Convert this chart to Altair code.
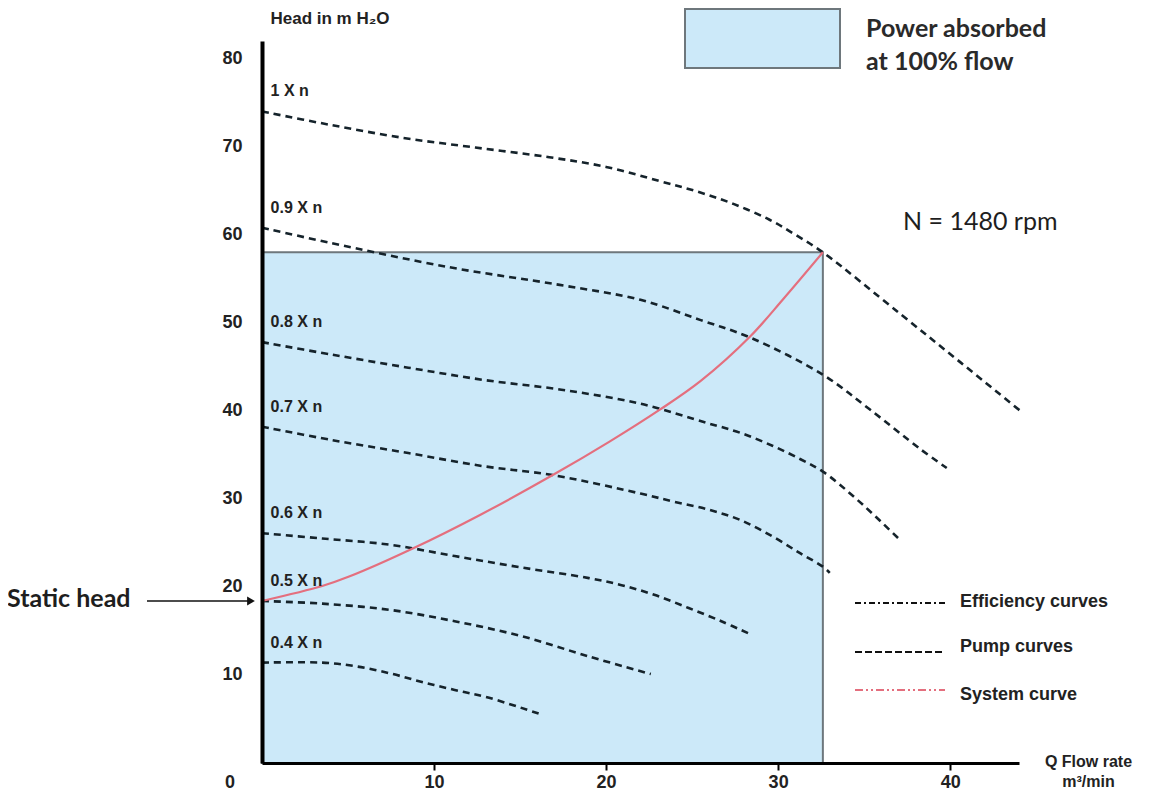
import altair as alt
import pandas as pd

# ---- data: Q flow rate (m3/min), H head (m H2O) ----
speeds = ["1 X n", "0.9 X n", "0.8 X n", "0.7 X n", "0.6 X n", "0.5 X n", "0.4 X n"]

q_10 = [0, 3.9, 8.2, 12.4, 16.7, 20.0, 23.1, 25.3, 27.4, 29.5, 31.0, 32.6, 37.1, 40.6, 44.2]
h_10 = [74.0, 72.5, 71.0, 69.9, 68.8, 67.7, 66.1, 64.9, 63.5, 61.7, 60.0, 58.0, 51.0, 45.5, 39.8]

q_09 = [0, 3.9, 10.9, 17.3, 22.0, 25.5, 28.4, 32.6, 35.3, 38.3, 39.8]
h_09 = [60.8, 59.1, 56.3, 54.3, 52.6, 50.3, 48.3, 44.1, 40.2, 35.6, 33.5]

q_08 = [0, 4.0, 8.5, 12.9, 17.4, 22.0, 25.9, 27.8, 29.7, 31.3, 32.6, 34.6, 37.1]
h_08 = [47.8, 46.4, 44.9, 43.5, 42.4, 40.8, 38.6, 37.5, 36.0, 34.5, 33.1, 29.9, 25.3]

q_07 = [0, 4.0, 8.5, 12.9, 16.9, 22.0, 23.9, 25.9, 27.8, 29.7, 31.3, 32.6, 33.0]
h_07 = [38.2, 36.7, 35.2, 33.7, 32.7, 30.6, 29.7, 28.8, 27.6, 25.7, 23.8, 22.3, 21.6]

q_06 = [0, 3.5, 7.4, 11.2, 15.1, 19.0, 20.9, 22.8, 24.8, 26.7, 28.3]
h_06 = [26.1, 25.5, 24.8, 23.5, 22.2, 21.0, 20.2, 19.1, 17.6, 16.1, 14.7]

q_05 = [0, 3.5, 7.4, 11.2, 15.1, 19.0, 22.6]
h_05 = [18.4, 18.1, 17.4, 16.1, 14.4, 12.1, 10.1]

q_04 = [0, 3.5, 5.4, 7.4, 9.3, 11.2, 13.2, 16.1]
h_04 = [11.4, 11.4, 11.0, 10.2, 9.2, 8.3, 7.4, 5.6]

q_sys = [0, 3.5, 5.1, 8.7, 12.7, 16.9, 20.2, 23.1, 25.5, 28.4, 30.3, 32.6]
h_sys = [18.4, 20.1, 21.2, 24.3, 28.2, 32.7, 36.5, 40.1, 43.4, 48.5, 52.7, 58.0]

q_operating = 32.6
h_operating = 58.0
static_head = 18.4

x_ticks = [10, 20, 30, 40]
y_ticks = [10, 20, 30, 40, 50, 60, 70, 80]
legend_labels = ["Efficiency curves", "Pump curves", "System curve"]

# ---- build tables ----
pump_q = [q_10, q_09, q_08, q_07, q_06, q_05, q_04]
pump_h = [h_10, h_09, h_08, h_07, h_06, h_05, h_04]
rows = []
for name, qs, hs in zip(speeds, pump_q, pump_h):
    for i, (q, h) in enumerate(zip(qs, hs)):
        rows.append({"speed": name, "i": i, "Q": q, "H": h})
pump_df = pd.DataFrame(rows)
sys_df = pd.DataFrame({"Q": q_sys, "H": h_sys, "i": range(len(q_sys))})
label_df = pd.DataFrame({"speed": speeds, "Q": [0.5] * len(speeds),
                         "H": [hs[0] for hs in pump_h]})
rect_df = pd.DataFrame({"q0": [0], "q1": [q_operating], "h0": [0], "h1": [h_operating]})
one = pd.DataFrame({"a": [0]})

ARIAL = "Liberation Sans, Arial, Helvetica, sans-serif"
CAL = "Lato, Open Sans, sans-serif"
INK = "#222222"
LINE = "#15232b"
RED = "#e46f7e"

xs = alt.Scale(domain=[0, 44], nice=False, zero=False)
ys = alt.Scale(domain=[0, 82], nice=False, zero=False)

x_axis = alt.Axis(values=x_ticks, grid=False, domainColor="black", domainWidth=3,
                  tickColor="black", tickWidth=2, tickSize=7, labelPadding=3,
                  labelFont=ARIAL, labelFontSize=18, labelFontWeight="bold", labelColor=INK,
                  title=["Q Flow rate", "m³/min"], titleFont=ARIAL, titleFontSize=16,
                  titleFontWeight="bold", titleColor=INK, titleX=826, titleY=-10,
                  titleAlign="center", titleBaseline="top", titleLineHeight=20, zindex=1)
y_axis = alt.Axis(values=y_ticks, grid=False, domainColor="black", domainWidth=4,
                  ticks=False, labelPadding=20,
                  labelFont=ARIAL, labelFontSize=18, labelFontWeight="bold", labelColor=INK,
                  title="Head in m H₂O", titleFont=ARIAL, titleFontSize=17,
                  titleFontWeight="bold", titleColor=INK, titleAngle=0, titleX=8, titleY=-23,
                  titleAlign="left", titleBaseline="middle", zindex=1)

power_rect = alt.Chart(rect_df).mark_rect(fill="#cce9f9", stroke="#6e777c", strokeWidth=2).encode(
    x=alt.X("q0:Q", scale=xs, axis=x_axis), x2="q1",
    y=alt.Y("h0:Q", scale=ys, axis=y_axis), y2="h1")

pumps = alt.Chart(pump_df).mark_line(color=LINE, strokeWidth=2.6, strokeDash=[7, 5],
                                     interpolate="catmull-rom").encode(
    x=alt.X("Q:Q", scale=xs), y=alt.Y("H:Q", scale=ys), detail="speed:N", order="i:Q")

system = alt.Chart(sys_df).mark_line(color=RED, strokeWidth=2.2,
                                     interpolate="catmull-rom").encode(
    x=alt.X("Q:Q", scale=xs), y=alt.Y("H:Q", scale=ys), order="i:Q")

labels = alt.Chart(label_df).mark_text(align="left", baseline="middle", dy=-20, font=ARIAL,
                                       fontSize=16, fontWeight="bold", color=INK).encode(
    x=alt.X("Q:Q", scale=xs), y=alt.Y("H:Q", scale=ys), text="speed:N")

def note(txt, x, y, font=CAL, size=22, weight="normal", color=INK, align="left",
         baseline="alphabetic"):
    return alt.Chart(pd.DataFrame({"t": [txt]})).mark_text(
        align=align, baseline=baseline, font=font, fontSize=size, fontWeight=weight,
        color=color).encode(x=alt.value(x), y=alt.value(y), text="t:N")

box = alt.Chart(one).mark_rect(fill="#cce9f9", stroke="#6e777c", strokeWidth=2).encode(
    x=alt.value(423), x2=alt.value(578), y=alt.value(-32), y2=alt.value(27))

notes = [
    note("Power absorbed", 604, -4, weight="bold", size=25, color="#2a2a2a"),
    note("at 100% flow", 604, 29, weight="bold", size=25, color="#2a2a2a"),
    note("N = 1480 rpm", 641, 189, size=25, color="#1e1e1e"),
    note("Static head", -255, 566, weight="bold", size=25, color="#1e1e1e"),
    note("0", -32, 742, font=ARIAL, size=18, weight="bold", align="center", baseline="middle"),
]

sh_df = pd.DataFrame({"H": [static_head]})
arrow_line = alt.Chart(sh_df).mark_rule(color="#111111", strokeWidth=1.6).encode(
    x=alt.value(-115), x2=alt.value(-12), y=alt.Y("H:Q", scale=ys))
arrow_head = alt.Chart(sh_df).mark_point(shape="triangle-right", filled=True, color="#111111",
                                         size=80, opacity=1).encode(
    x=alt.value(-11), y=alt.Y("H:Q", scale=ys))

leg_y = [562, 611, 649]
leg_ty = [566, 611, 659]
leg_dash = [[6, 3, 2, 3], [7, 3], [8, 3, 2, 3, 2, 3]]
leg_col = ["#111111", "#111111", RED]
legend_layers = []
for lab, ly, lty, dash, col in zip(legend_labels, leg_y, leg_ty, leg_dash, leg_col):
    legend_layers.append(alt.Chart(one).mark_rule(color=col, strokeWidth=2, strokeDash=dash).encode(
        x=alt.value(593), x2=alt.value(683), y=alt.value(ly)))
    legend_layers.append(note(lab, 698, lty, font=ARIAL, size=18, weight="bold"))

chart = alt.layer(power_rect, pumps, system, labels, box, arrow_line, arrow_head,
                  *notes, *legend_layers).properties(
    width=757, height=722,
    autosize=alt.AutoSizeParams(type="none"),
    padding={"left": 254, "top": 33, "right": 122, "bottom": 28},
    background="white",
).configure_view(stroke=None)

chart.save("out.html", embed_options={"renderer": "svg", "actions": False})
